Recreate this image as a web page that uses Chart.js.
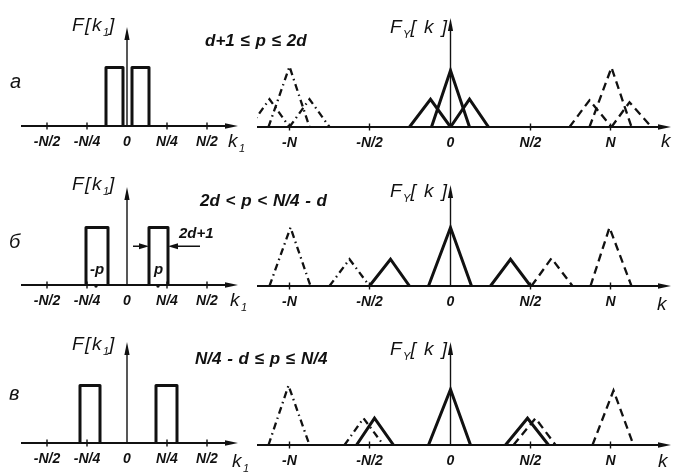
<!DOCTYPE html>
<html lang="ru">
<head>
  <meta charset="UTF-8">
  <title>Спектры F[k1] и FY[k]</title>
  <script src="https://cdn.jsdelivr.net/npm/chart.js"></script>
  <style>
    body {
      margin: 0;
      background: #fff;
      font-family: 'Liberation Sans', Arial, sans-serif;
      color: #111;
    }
    #fig {
      position: relative;
      width: 674px;
      height: 473px;
      overflow: hidden;
    }
    canvas {
      position: absolute;
    }
    .lbl {
      position: absolute;
      font-style: italic;
      line-height: 1;
      white-space: nowrap;
    }
    .cond { font-weight: bold; font-size: 17px; word-spacing: 1px; }
    .ax { font-size: 19px; letter-spacing: 1.5px; }
    .ax sub { font-size: 11px; letter-spacing: 0; }
    .row { font-size: 20px; }
    .small { font-weight: bold; font-size: 15px; }
  </style>
</head>
<body>
  <div id="fig">
    <canvas id="leftA" width="217" height="143" style="left:21px;top:15px"></canvas>
    <canvas id="rightA" width="414" height="143" style="left:257px;top:16px"></canvas>
    <canvas id="leftB" width="217" height="143" style="left:21px;top:174px"></canvas>
    <canvas id="rightB" width="414" height="143" style="left:257px;top:175px"></canvas>
    <canvas id="leftC" width="217" height="143" style="left:21px;top:332px"></canvas>
    <canvas id="rightC" width="414" height="143" style="left:257px;top:334px"></canvas>

    <span class="lbl row" style="left:10px;top:71px">а</span>
    <span class="lbl row" style="left:9px;top:231px">б</span>
    <span class="lbl row" style="left:9px;top:383px">в</span>

    <span class="lbl cond" style="left:205px;top:32px">d+1 ≤ p ≤ 2d</span>
    <span class="lbl cond" style="left:200px;top:192px">2d &lt; p &lt; N/4 - d</span>
    <span class="lbl cond" style="left:195px;top:350px">N/4 - d ≤ p ≤ N/4</span>

    <span class="lbl ax" style="left:72px;top:15px">F[k<sub>1</sub>]</span>
    <span class="lbl ax" style="left:72px;top:174px">F[k<sub>1</sub>]</span>
    <span class="lbl ax" style="left:72px;top:334px">F[k<sub>1</sub>]</span>
    <span class="lbl ax" style="left:390px;top:17px">F<sub>Y</sub>[ k ]</span>
    <span class="lbl ax" style="left:390px;top:181px">F<sub>Y</sub>[ k ]</span>
    <span class="lbl ax" style="left:390px;top:339px">F<sub>Y</sub>[ k ]</span>

    <span class="lbl ax" style="left:228px;top:131px">k<sub>1</sub></span>
    <span class="lbl ax" style="left:230px;top:290px">k<sub>1</sub></span>
    <span class="lbl ax" style="left:232px;top:451px">k<sub>1</sub></span>
    <span class="lbl ax" style="left:661px;top:131px">k</span>
    <span class="lbl ax" style="left:657px;top:294px">k</span>
    <span class="lbl ax" style="left:658px;top:451px">k</span>

    <span class="lbl small" style="left:179px;top:225px">2d+1</span>
    <span class="lbl small" style="left:90px;top:261px">-p</span>
    <span class="lbl small" style="left:154px;top:261px">p</span>
  </div>

  <script>
    // tick positions and labels
    const leftTicks = [-80, -40, 0, 40, 80];
    const leftTickLabels = ['-N/2', '-N/4', '0', 'N/4', 'N/2'];
    const rightTicks = [-161, -81, 0, 80, 160];
    const rightTickLabels = ['-N', '-N/2', '0', 'N/2', 'N'];

    // F[k1]: rectangles [from, to, height]
    const rectsA = [[-21, -4, 59], [5, 22, 59]];
    const rectsB = [[-41, -19, 58], [22, 41, 58]];
    const rectsC = [[-47, -27, 58], [29, 50, 58]];

    // marks of +-p on the k1 axis (panel б)
    const pMarksB = [-31, 31];

    // FY[k]: triangles [start, peak, end, height]
    const solidA = [[-41, -20, 0, 28], [-19, 0, 19, 57], [0, 19, 38, 28]];
    const minusNA = [[-201, -181, -161, 28], [-182, -161, -141, 61], [-161, -141, -121, 28]];
    const plusNA = [[119, 139, 161, 27], [139, 161, 181, 60], [161, 179, 201, 25]];

    const solidB = [[-81, -60, -41, 27], [-22, 0, 21, 59], [40, 60, 80, 27]];
    const minusNB = [[-181, -160, -140, 59], [-121, -101, -81, 27]];
    const plusNB = [[81, 101, 122, 28], [140, 159, 181, 59]];

    const solidC = [[-94, -76, -57, 27], [-22, 0, 20, 56], [55, 77, 98, 27]];
    const minusNC = [[-182, -162, -141, 60], [-106, -87, -67, 27]];
    const plusNC = [[63, 85, 105, 27], [142, 163, 183, 55]];

    const INK = '#111';

    const styles = {
      solid: { borderWidth: 3, borderDash: [] },
      minusN: { borderWidth: 2.3, borderDash: [7, 4, 1.5, 4] },
      plusN: { borderWidth: 2.3, borderDash: [8, 5] }
    };

    function triSets(list, kind) {
      return list.map(t => Object.assign({
        data: [{ x: t[0], y: 0 }, { x: t[1], y: t[3] }, { x: t[2], y: 0 }],
        showLine: true,
        borderColor: INK,
        borderJoinStyle: 'miter',
        pointRadius: 0
      }, styles[kind]));
    }

    function rectSets(list) {
      return list.map(r => ({
        data: [{ x: r[0], y: 0 }, { x: r[0], y: r[2] }, { x: r[1], y: r[2] }, { x: r[1], y: 0 }],
        showLine: true,
        borderColor: INK,
        borderWidth: 3,
        borderJoinStyle: 'round',
        pointRadius: 0
      }));
    }

    function arrowHead(ctx, x, y, dir) {
      ctx.beginPath();
      if (dir === 'right') {
        ctx.moveTo(x, y);
        ctx.lineTo(x - 13, y - 2.8);
        ctx.lineTo(x - 13, y + 2.8);
      } else {
        ctx.moveTo(x, y);
        ctx.lineTo(x - 2.6, y + 13);
        ctx.lineTo(x + 2.6, y + 13);
      }
      ctx.closePath();
      ctx.fill();
    }

    // axes with arrows, tick marks, and optional width arrows
    function axesPlugin(cfg) {
      return {
        id: 'arrowAxes',
        beforeDatasetsDraw(chart) {
          const { ctx, chartArea: a, scales: { x, y } } = chart;
          const y0 = y.getPixelForValue(0);
          const x0 = x.getPixelForValue(0);
          ctx.save();
          ctx.strokeStyle = INK;
          ctx.fillStyle = INK;
          ctx.lineWidth = 1.8;
          ctx.beginPath();
          ctx.moveTo(a.left, y0);
          ctx.lineTo(a.right - 6, y0);
          ctx.stroke();
          arrowHead(ctx, a.right, y0, 'right');

          const yt = y.getPixelForValue(cfg.top);
          ctx.lineWidth = 1.4;
          ctx.beginPath();
          ctx.moveTo(x0, y0);
          ctx.lineTo(x0, yt + 6);
          ctx.stroke();
          arrowHead(ctx, x0, yt, 'up');

          ctx.lineWidth = 1.4;
          cfg.ticks.forEach(v => {
            if (v === 0) return;
            const px = x.getPixelForValue(v);
            ctx.beginPath();
            ctx.moveTo(px, y0 - 3.5);
            ctx.lineTo(px, y0 + 3.5);
            ctx.stroke();
          });
          (cfg.marks || []).forEach(v => {
            const px = x.getPixelForValue(v);
            ctx.beginPath();
            ctx.arc(px, y0 + 1, 1.7, 0, Math.PI * 2);
            ctx.fill();
          });
          ctx.restore();
        },
        afterDatasetsDraw(chart) {
          if (!cfg.width) return;
          const { ctx, scales: { x, y } } = chart;
          const w = cfg.width;
          const py = y.getPixelForValue(w.y);
          const l = x.getPixelForValue(w.from), r = x.getPixelForValue(w.to);
          ctx.save();
          ctx.strokeStyle = INK;
          ctx.fillStyle = INK;
          ctx.lineWidth = 1.5;
          ctx.beginPath();
          ctx.moveTo(x.getPixelForValue(w.from - 16), py);
          ctx.lineTo(l - 8, py);
          ctx.moveTo(x.getPixelForValue(w.to + 32), py);
          ctx.lineTo(r + 8, py);
          ctx.stroke();
          // left arrow points right, right arrow points left
          ctx.beginPath();
          ctx.moveTo(l, py); ctx.lineTo(l - 10, py - 3); ctx.lineTo(l - 10, py + 3);
          ctx.closePath(); ctx.fill();
          ctx.beginPath();
          ctx.moveTo(r, py); ctx.lineTo(r + 10, py - 3); ctx.lineTo(r + 10, py + 3);
          ctx.closePath(); ctx.fill();
          ctx.restore();
        }
      };
    }

    function makePanel(id, datasets, xMin, xMax, ticks, labels, cfg) {
      cfg.ticks = ticks;
      return new Chart(document.getElementById(id), {
        type: 'scatter',
        data: { datasets: datasets },
        options: {
          responsive: false,
          animation: false,
          devicePixelRatio: 1,
          events: [],
          layout: { padding: 0 },
          plugins: {
            legend: { display: false },
            tooltip: { enabled: false }
          },
          scales: {
            x: {
              type: 'linear',
              min: xMin,
              max: xMax,
              grid: { display: false, drawTicks: false },
              border: { display: false },
              afterBuildTicks: s => { s.ticks = ticks.map(v => ({ value: v })); },
              ticks: {
                autoSkip: false,
                maxRotation: 0,
                padding: 9,
                color: INK,
                font: { family: "'Liberation Sans', Arial, sans-serif", size: 14, style: 'italic', weight: 'bold', lineHeight: 1 },
                callback: v => labels[ticks.indexOf(v)]
              }
            },
            y: { display: false, min: 0, max: 112 }
          }
        },
        plugins: [axesPlugin(cfg)]
      });
    }

    const L_MIN = -106, L_MAX = 111;
    const R_MIN = -193.5, R_MAX = 220.5;

    makePanel('leftA', rectSets(rectsA), L_MIN, L_MAX, leftTicks, leftTickLabels, { top: 100 });
    makePanel('leftB', rectSets(rectsB), L_MIN, L_MAX, leftTicks, leftTickLabels,
      { top: 99, marks: pMarksB, width: { from: 22, to: 41, y: 39 } });
    makePanel('leftC', rectSets(rectsC), L_MIN, L_MAX, leftTicks, leftTickLabels, { top: 102 });

    makePanel('rightA', [...triSets(solidA, 'solid'), ...triSets(minusNA, 'minusN'), ...triSets(plusNA, 'plusN')],
      R_MIN, R_MAX, rightTicks, rightTickLabels, { top: 110 });
    makePanel('rightB', [...triSets(solidB, 'solid'), ...triSets(minusNB, 'minusN'), ...triSets(plusNB, 'plusN')],
      R_MIN, R_MAX, rightTicks, rightTickLabels, { top: 102 });
    makePanel('rightC', [...triSets(solidC, 'solid'), ...triSets(minusNC, 'minusN'), ...triSets(plusNC, 'plusN')],
      R_MIN, R_MAX, rightTicks, rightTickLabels, { top: 104 });
  </script>
</body>
</html>
